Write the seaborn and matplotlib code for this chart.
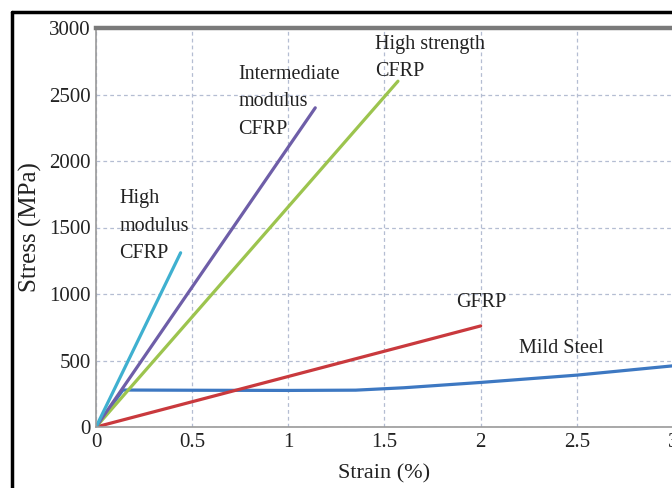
import matplotlib
matplotlib.use("Agg")
import matplotlib.pyplot as plt
from matplotlib.lines import Line2D
import seaborn as sns
import pandas as pd

# ---- data ----
hm_strain = [0.0, 0.44]
hm_stress = [0, 1310]
im_strain = [0.0, 1.14]
im_stress = [0, 2400]
hs_strain = [0.0, 1.57]
hs_stress = [0, 2600]
gf_strain = [0.0, 2.0]
gf_stress = [0, 760]
ms_strain = [0.0, 0.14, 0.6, 1.0, 1.35, 1.6, 2.0, 2.5, 3.0]
ms_stress = [0, 278, 276, 275, 277, 295, 335, 390, 460]

names = ["High modulus CFRP", "Intermediate modulus CFRP", "High strength CFRP", "GFRP", "Mild Steel"]
labels = ["High\nmodulus\nCFRP", "Intermediate\nmodulus\nCFRP", "High strength\nCFRP", "GFRP", "Mild Steel"]
label_pos = [(0.12, 1790), (0.74, 2725), (1.45, 2950), (1.87, 1010), (2.2, 665)]
colors = ["#3fb0d0", "#6e5ea8", "#9cc44e", "#c9393d", "#3d78c2"]

xticks = [0, 0.5, 1, 1.5, 2, 2.5, 3]
xticklabels = ["0", "0.5", "1", "1.5", "2", "2.5", "3"]
yticks = [0, 500, 1000, 1500, 2000, 2500, 3000]

rows = []
for n, xs, ys in zip(names,
                     [hm_strain, im_strain, hs_strain, gf_strain, ms_strain],
                     [hm_stress, im_stress, hs_stress, gf_stress, ms_stress]):
    for i, (x, y) in enumerate(zip(xs, ys)):
        rows.append({"material": n, "strain": x, "stress": y, "order": i})
df = pd.DataFrame(rows)

sns.set_style("white")
plt.rcParams["font.family"] = ["Liberation Serif", "DejaVu Serif"]

fig = plt.figure(figsize=(6.72, 4.88), dpi=100)
ax = fig.add_axes([96 / 672, 61 / 488, 577 / 672, 399 / 488])

# plot order: steel first (back), then others
order = ["Mild Steel", "GFRP", "High strength CFRP", "Intermediate modulus CFRP", "High modulus CFRP"]
pal = dict(zip(names, colors))
for n in order:
    sub = df[df.material == n]
    sns.lineplot(data=sub, x="strain", y="stress", color=pal[n], sort=False,
                 linewidth=2.3, ax=ax, legend=False, estimator=None)

ax.set_xlim(0, 3)
ax.set_ylim(0, 3000)
ax.set_xticks(xticks)
ax.set_xticklabels(xticklabels)
ax.set_yticks(yticks)
ax.grid(True, color="#b4bdd2", linestyle=(0, (3, 2.5)), linewidth=0.9)
ax.set_axisbelow(True)

for s in ["left", "bottom"]:
    ax.spines[s].set_color("#9a9a9a")
    ax.spines[s].set_linewidth(1.2)
ax.spines["top"].set_color("#7a7a7a")
ax.spines["top"].set_linewidth(3.2)
ax.spines["right"].set_visible(False)

ax.tick_params(axis="both", labelsize=15, colors="#222222", length=3, direction="in", pad=4,
               color="#9a9a9a")
ax.set_xlabel("Strain (%)", fontsize=16, color="#222222", labelpad=9)
ax.set_ylabel("Stress (MPa)", fontsize=18, color="#222222", labelpad=5)

for lab, (x, y) in zip(labels, label_pos):
    ax.text(x, y, lab, fontsize=14.5, color="#222222", va="top", ha="left", linespacing=1.62)

# black frame of the cropped figure
fig.add_artist(Line2D([12 / 672, 12 / 672], [0, 1 - 12 / 488], color="black", linewidth=2.5,
                      transform=fig.transFigure))
fig.add_artist(Line2D([12 / 672, 1], [1 - 12 / 488, 1 - 12 / 488], color="black", linewidth=2.5,
                      transform=fig.transFigure))

fig.savefig("out.png", dpi=100)
